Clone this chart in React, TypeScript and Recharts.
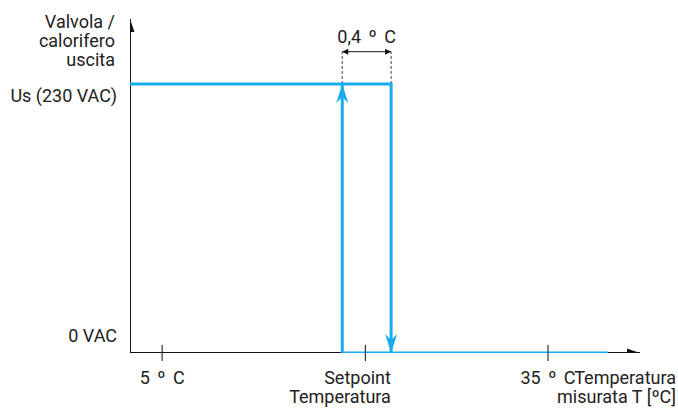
import { LineChart, Line, XAxis, YAxis, ReferenceDot } from "recharts";

const BLUE = "#18ACEC";
const INK = "#222222";
const FONT = "Roboto, 'Noto Sans', sans-serif";

// schematic temperature scale (°C-ish units) and output level (1 = Us)
const xDomain = [2.5, 42.15];
const yDomain = [0, 1.2416];

const xTicks = [5, 20.8, 35];
const xTickLabels = [["5 º C"], ["Setpoint", "Temperatura"], ["35 º C"]];
const yTicks = [0, 1];
const yTickLabels = ["0 VAC", "Us (230 VAC)"];
const yTitle = ["Valvola /", "calorifero", "uscita"];
const xTitle = ["Temperatura", "misurata T [ºC]"];
const bandLabel = "0,4 º C";

// output on, switched off above setpoint + band
const offPath = [
  { x: 2.5, y: 1 },
  { x: 22.8, y: 1 },
  { x: 22.8, y: 0 },
  { x: 39.65, y: 0 },
];
// output off, switched on again below setpoint
const onPath = [
  { x: 22.8, y: 0 },
  { x: 19.0, y: 0 },
  { x: 19.0, y: 1 },
];
const xAxisLine = [
  { x: 2.5, y: 0 },
  { x: 42.15, y: 0 },
];
const yAxisLine = [
  { x: 2.5, y: 0 },
  { x: 2.5, y: 1.2416 },
];
const dashLeft = [
  { x: 19.0, y: 1 },
  { x: 19.0, y: 1.12 },
];
const dashRight = [
  { x: 22.8, y: 1 },
  { x: 22.8, y: 1.12 },
];
const bandSpan = [
  { x: 19.0, y: 1.12 },
  { x: 22.8, y: 1.12 },
];

type Dir = "up" | "down" | "left" | "right";

function arrowPoints(cx: number, cy: number, dir: Dir, len: number, half: number, notch: number) {
  const n = len - notch;
  switch (dir) {
    case "up":
      return `${cx},${cy} ${cx - half},${cy + len} ${cx},${cy + n} ${cx + half},${cy + len}`;
    case "down":
      return `${cx},${cy} ${cx - half},${cy - len} ${cx},${cy - n} ${cx + half},${cy - len}`;
    case "left":
      return `${cx},${cy} ${cx + len},${cy - half} ${cx + n},${cy} ${cx + len},${cy + half}`;
    default:
      return `${cx},${cy} ${cx - len},${cy - half} ${cx - n},${cy} ${cx - len},${cy + half}`;
  }
}

const arrowDot =
  (marks: { index: number; dir: Dir }[], color: string, len: number, half: number, notch = 0) =>
  (props: any) => {
    const { cx, cy, index } = props;
    const m = marks.find((k) => k.index === index);
    if (!m || cx == null) return <g key={`n${index}`} />;
    return <polygon key={`a${index}`} points={arrowPoints(cx, cy, m.dir, len, half, notch)} fill={color} />;
  };

const XTick = (props: any) => {
  const { x, y, payload } = props;
  const i = xTicks.indexOf(payload.value);
  const lines = xTickLabels[i] ?? [];
  const twoLine = lines.length > 1;
  return (
    <g>
      <line x1={x} x2={x} y1={y - 8} y2={y + 8} stroke="#333" strokeWidth={1.2} />
      {lines.map((t, k) => (
        <text
          key={k}
          x={twoLine ? x + 25.5 : x}
          y={y + 31 + k * 19}
          textAnchor={twoLine ? "end" : "middle"}
          fontFamily={FONT}
          fontSize={18}
          wordSpacing={twoLine ? 0 : 3}
          fill={INK}
        >
          {t}
        </text>
      ))}
    </g>
  );
};

const YTick = (props: any) => {
  const { x, y, payload } = props;
  const i = yTicks.indexOf(payload.value);
  return (
    <text x={x - 13} y={i === 0 ? y - 11 : y + 18} textAnchor="end" fontFamily={FONT} fontSize={18} fill={INK}>
      {yTickLabels[i]}
    </text>
  );
};

const YTitle = (props: any) => {
  const vb = props.viewBox;
  return (
    <g>
      {yTitle.map((t, k) => (
        <text
          key={k}
          x={vb.x + vb.width - 15}
          y={vb.y + 9 + k * 19}
          textAnchor="end"
          fontFamily={FONT}
          fontSize={18}
          fill={INK}
        >
          {t}
        </text>
      ))}
    </g>
  );
};

const XTitle = (props: any) => {
  const vb = props.viewBox;
  return (
    <g>
      {xTitle.map((t, k) => (
        <text
          key={k}
          x={vb.x + vb.width + 36}
          y={vb.y + 31 + k * 19}
          textAnchor="end"
          fontFamily={FONT}
          fontSize={18}
          fill={INK}
        >
          {t}
        </text>
      ))}
    </g>
  );
};

export default function App() {
  return (
    <div style={{ width: 678, height: 411, background: "#fff" }}>
      <style>{"body{margin:0}"}</style>
      <LineChart width={678} height={411} margin={{ top: 19, right: 38, left: 0, bottom: 0 }}>
        <XAxis
          type="number"
          dataKey="x"
          domain={xDomain}
          ticks={xTicks}
          interval={0}
          height={58}
          axisLine={false}
          tickLine={false}
          tickSize={0}
          tickMargin={0}
          tick={<XTick />}
          allowDataOverflow
          label={{ content: <XTitle /> }}
        />
        <YAxis
          type="number"
          dataKey="y"
          domain={yDomain}
          ticks={yTicks}
          interval={0}
          width={130}
          axisLine={false}
          tickLine={false}
          tickSize={0}
          tickMargin={0}
          tick={<YTick />}
          allowDataOverflow
          label={{ content: <YTitle /> }}
        />
        <Line
          data={yAxisLine}
          dataKey="y"
          stroke="#111"
          strokeWidth={2}
          dot={arrowDot([{ index: 1, dir: "up" }], "#111", 13, 4.5)}
          activeDot={false}
          isAnimationActive={false}
        />
        <Line
          data={xAxisLine}
          dataKey="y"
          stroke="#111"
          strokeWidth={2}
          dot={arrowDot([{ index: 1, dir: "right" }], "#111", 13, 4.5)}
          activeDot={false}
          isAnimationActive={false}
        />
        <Line data={dashLeft} dataKey="y" stroke="#444" strokeWidth={1} strokeDasharray="3 2" dot={false} activeDot={false} isAnimationActive={false} />
        <Line data={dashRight} dataKey="y" stroke="#444" strokeWidth={1} strokeDasharray="3 2" dot={false} activeDot={false} isAnimationActive={false} />
        <Line
          data={bandSpan}
          dataKey="y"
          stroke="#111"
          strokeWidth={1}
          dot={arrowDot(
            [
              { index: 0, dir: "left" },
              { index: 1, dir: "right" },
            ],
            "#111",
            6,
            3
          )}
          activeDot={false}
          isAnimationActive={false}
        />
        <Line
          data={offPath}
          dataKey="y"
          stroke={BLUE}
          strokeWidth={3}
          dot={arrowDot([{ index: 2, dir: "down" }], BLUE, 19, 6, 6)}
          activeDot={false}
          isAnimationActive={false}
        />
        <Line
          data={onPath}
          dataKey="y"
          stroke={BLUE}
          strokeWidth={3}
          dot={arrowDot([{ index: 2, dir: "up" }], BLUE, 19, 6, 6)}
          activeDot={false}
          isAnimationActive={false}
        />
        <ReferenceDot
          x={20.9}
          y={1.12}
          r={0}
          ifOverflow="visible"
          shape={(p: any) => (
            <text x={p.cx} y={p.cy - 9} textAnchor="middle" fontFamily={FONT} fontSize={18} wordSpacing={3} fill={INK}>
              {bandLabel}
            </text>
          )}
        />
      </LineChart>
    </div>
  );
}
